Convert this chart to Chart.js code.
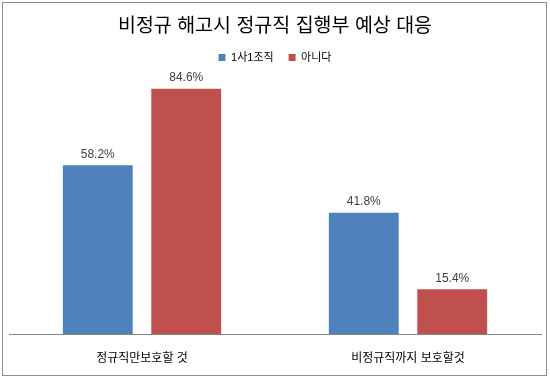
<!DOCTYPE html>
<html>
<head>
<meta charset="utf-8">
<script src="https://cdn.jsdelivr.net/npm/chart.js@4"></script>
<style>
    body { margin: 0; background: #fff; }
    #frame { position: absolute; left: 2px; top: 2px; width: 543px; height: 372px; border: 1px solid #8c8c8c; }
    #wrap { position: absolute; left: 0; top: 0; width: 550px; height: 378px; }
</style>
</head>
<body>
<div id="frame"></div>
<div id="wrap"><canvas id="grafico"></canvas></div>
<script>
const categorias = ["정규직만보호할 것", "비정규직까지 보호할것"];
const nomesSeries = ["1사1조직", "아니다"];
const valores1sa1 = [58.2, 41.8];
const valoresAnida = [84.6, 15.4];
const cores = ["#4F81BD", "#C0504D"];

const FONTE = "'Liberation Sans', 'Noto Sans CJK KR', sans-serif";

// rótulos de valor acima das barras
const rotulosPlugin = {
    id: "rotulos",
    afterDatasetsDraw(chart) {
        const ctx = chart.ctx;
        ctx.save();
        ctx.font = "12px " + FONTE;
        ctx.fillStyle = "#404040";
        ctx.textAlign = "center";
        ctx.textBaseline = "bottom";
        chart.data.datasets.forEach((ds, i) => {
            chart.getDatasetMeta(i).data.forEach((bar, j) => {
                ctx.fillText(ds.data[j].toFixed(1) + "%", bar.x, bar.y - 5);
            });
        });
        ctx.restore();
    }
};

new Chart(document.getElementById("grafico"), {
    type: "bar",
    data: {
        labels: categorias,
        datasets: [
            { label: nomesSeries[0], data: valores1sa1, backgroundColor: cores[0] },
            { label: nomesSeries[1], data: valoresAnida, backgroundColor: cores[1] }
        ]
    },
    options: {
        responsive: true,
        maintainAspectRatio: false,
        animation: false,
        categoryPercentage: 0.665,
        barPercentage: 0.79,
        layout: { padding: { left: 9, right: 9, top: 0, bottom: 3.6 } },
        scales: {
            x: {
                grid: { display: false },
                border: { color: "#868686" },
                ticks: { color: "#000", padding: 9, font: { family: FONTE, size: 12 } }
            },
            y: { display: false, min: 0, max: 90 }
        },
        plugins: {
            title: {
                display: true,
                text: "비정규 해고시 정규직 집행부 예상 대응",
                color: "#000",
                font: { family: FONTE, size: 19.5, weight: "normal", lineHeight: 1 },
                padding: { top: 17, bottom: 0.5 }
            },
            legend: {
                labels: {
                    color: "#000",
                    boxWidth: 7,
                    boxHeight: 7,
                    padding: 15,
                    font: { family: FONTE, size: 11 }
                }
            },
            tooltip: { enabled: false }
        }
    },
    plugins: [rotulosPlugin]
});
</script>
</body>
</html>
